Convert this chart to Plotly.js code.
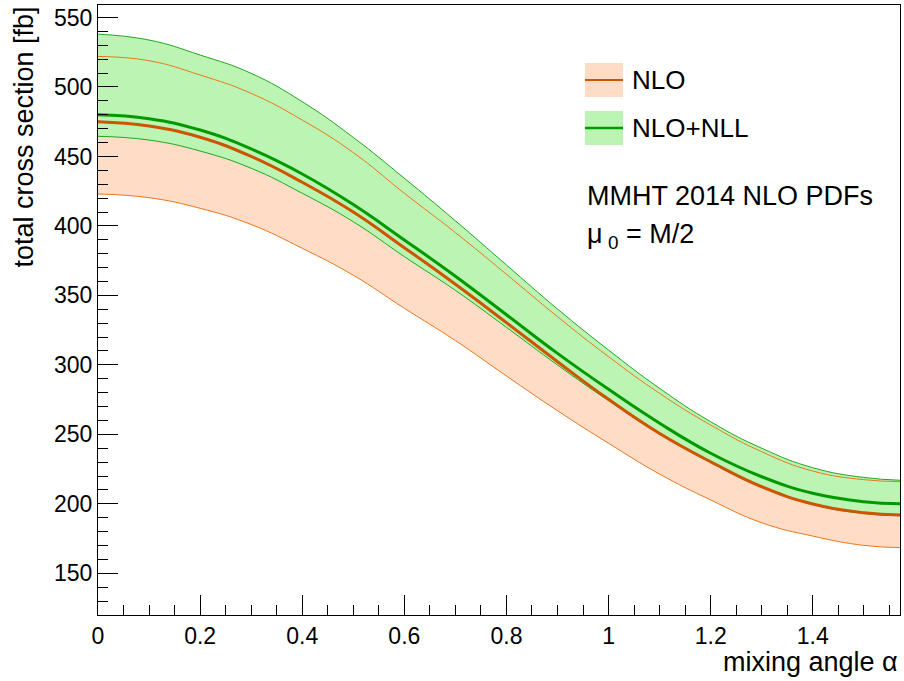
<!DOCTYPE html>
<html>
<head>
<meta charset="utf-8">
<script src="https://cdn.plot.ly/plotly-3.0.1.min.js"></script>
<style>html,body{margin:0;padding:0;background:#fff;}#chart{width:904px;height:681px;}</style>
</head>
<body>
<div id="chart"></div>
<script>
// mixing angle alpha (x)
const alpha = [0, 0.1, 0.2, 0.3, 0.4, 0.5, 0.6, 0.7, 0.8, 0.9, 1.0, 1.1, 1.2, 1.3, 1.4, 1.5, 1.5708];
// NLO: central value and scale band
const nloCentral = [475, 471.9, 463.8, 450, 431.4, 410, 384.3, 358, 330.4, 302.3, 275.2, 250.6, 230.3, 212.3, 199.9, 193.6, 192];
const nloUpper   = [522, 518.9, 508.6, 495.4, 476.2, 452.8, 423.5, 395.2, 365.2, 334.7, 305.9, 279.5, 256.7, 237.5, 223.6, 217.4, 216];
const nloLower   = [423, 420.3, 412.7, 401, 383.9, 364.5, 340.7, 317.5, 292, 267, 243.6, 221.4, 202.8, 186.4, 176.8, 170.1, 168.5];
// NLO+NLL: central value and scale band
const nllCentral = [480, 477.2, 469, 455.4, 437.4, 415.4, 389.9, 363.8, 336.1, 308.3, 282.4, 258, 236.4, 219.5, 207.6, 201.5, 200];
const nllUpper   = [538, 533.8, 523, 509.8, 489.4, 463.7, 434.3, 403.7, 371.9, 340.2, 310.7, 283.1, 259.1, 240, 226, 219, 217];
const nllLower   = [464.5, 461.8, 453.9, 441.5, 423.5, 403, 377.9, 353.6, 327, 299.9, 274.2, 250.5, 229.6, 212, 199.5, 193, 191.5];

const legendNames = ["NLO", "NLO+NLL"];
const xTitle = "mixing angle \u03b1";
const yTitle = "total cross section [fb]";
const note1 = "MMHT 2014 NLO PDFs";
const note2 = "\u03bc\u2009<sub>0</sub>\u00a0= M/2";

const orangeLine = "#cc5500";
const orangeEdge = "#e8781e";
const orangeFill = "#ffdcc6";
const greenLine = "#009a00";
const greenEdge = "#1fa81f";
const greenFill = "#bcf4b4";
const FONT = "Liberation Sans, Arial, Helvetica, sans-serif";

function band(y, fill, color) {
  return {x: alpha, y: y, type: "scatter", mode: "lines", showlegend: false, hoverinfo: "skip",
    line: {width: 0, shape: "spline", smoothing: 1.3, color: color}, fill: fill, fillcolor: color};
}
function line(y, color, w) {
  return {x: alpha, y: y, type: "scatter", mode: "lines", showlegend: false,
    line: {width: w, shape: "spline", smoothing: 1.3, color: color}};
}

const traces = [
  band(nloLower, "none", orangeFill),
  band(nloUpper, "tonexty", orangeFill),
  band(nllLower, "none", greenFill),
  band(nllUpper, "tonexty", greenFill),
  line(nloUpper, orangeEdge, 1),
  line(nloLower, orangeEdge, 1),
  line(nllUpper, greenEdge, 1),
  line(nllLower, greenEdge, 1),
  line(nllCentral, greenLine, 3),
  line(nloCentral, orangeLine, 3)
];

const axisCommon = {
  ticks: "inside", ticklen: 20, tickwidth: 1, tickcolor: "#000",
  showline: true, linecolor: "#000", linewidth: 1, mirror: true,
  showgrid: false, zeroline: false,
  tickfont: {family: FONT, size: 23, color: "#000"}
};

const layout = {
  width: 904, height: 681,
  margin: {l: 98, r: 4, t: 5, b: 66},
  paper_bgcolor: "#fff", plot_bgcolor: "#fff",
  showlegend: false,
  font: {family: FONT, color: "#000"},
  xaxis: Object.assign({}, axisCommon, {
    range: [0, 1.5708], tick0: 0, dtick: 0.2,
    minor: {dtick: 0.05, ticks: "inside", ticklen: 10, tickwidth: 1, tickcolor: "#000", showgrid: false}
  }),
  yaxis: Object.assign({}, axisCommon, {
    range: [120, 559], tick0: 0, dtick: 50,
    minor: {dtick: 10, ticks: "inside", ticklen: 10, tickwidth: 1, tickcolor: "#000", showgrid: false}
  }),
  shapes: [
    {type: "rect", xref: "paper", yref: "paper", x0: 0.6072, x1: 0.6546, y0: 0.8492, y1: 0.9049,
     fillcolor: orangeFill, line: {width: 0}, layer: "above"},
    {type: "line", xref: "paper", yref: "paper", x0: 0.6072, x1: 0.6546, y0: 0.877, y1: 0.877,
     line: {color: orangeLine, width: 2}, layer: "above"},
    {type: "rect", xref: "paper", yref: "paper", x0: 0.6072, x1: 0.6546, y0: 0.7705, y1: 0.8262,
     fillcolor: greenFill, line: {width: 0}, layer: "above"},
    {type: "line", xref: "paper", yref: "paper", x0: 0.6072, x1: 0.6546, y0: 0.7984, y1: 0.7984,
     line: {color: greenLine, width: 2.5}, layer: "above"}
  ],
  annotations: [
    {text: legendNames[0], xref: "paper", yref: "paper", x: 0.6633, y: 0.877, xanchor: "left", yanchor: "middle",
     showarrow: false, font: {family: FONT, size: 26, color: "#000"}},
    {text: legendNames[1], xref: "paper", yref: "paper", x: 0.6633, y: 0.7984, xanchor: "left", yanchor: "middle",
     showarrow: false, font: {family: FONT, size: 26, color: "#000"}},
    {text: note1, xref: "paper", yref: "paper", x: 0.6075, y: 0.687, xanchor: "left", yanchor: "middle",
     showarrow: false, font: {family: FONT, size: 27, color: "#000"}},
    {text: note2, xref: "paper", yref: "paper", x: 0.6075, y: 0.622, xanchor: "left", yanchor: "middle",
     showarrow: false, font: {family: FONT, size: 27, color: "#000"}},
    {text: xTitle, xref: "paper", yref: "paper", x: 1, y: -0.0766, xanchor: "right", yanchor: "middle",
     showarrow: false, font: {family: FONT, size: 27, color: "#000"}},
    {text: yTitle, xref: "paper", yref: "paper", x: -0.0935, y: 1.0, xanchor: "center", yanchor: "top",
     textangle: -90, showarrow: false, font: {family: FONT, size: 27, color: "#000"}}
  ]
};

Plotly.newPlot("chart", traces, layout, {staticPlot: true, displayModeBar: false});
</script>
</body>
</html>
